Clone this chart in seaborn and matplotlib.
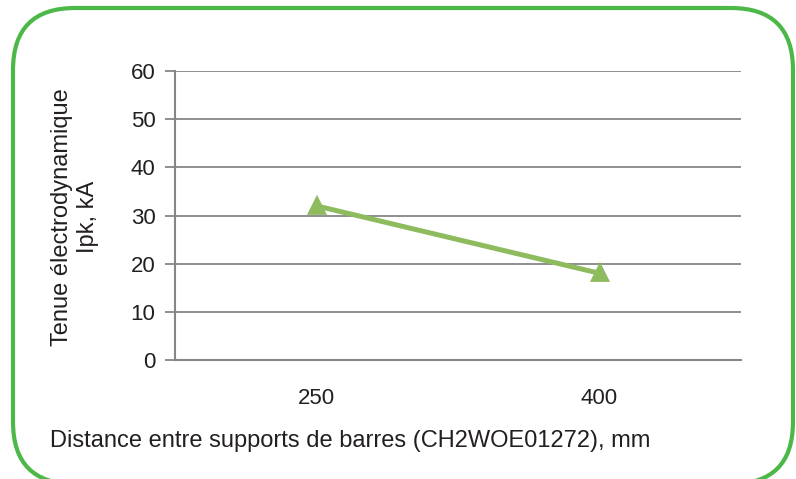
import matplotlib
matplotlib.use("Agg")
import matplotlib.pyplot as plt
from matplotlib.patches import FancyBboxPatch
import pandas as pd
import seaborn as sns

distances = ["250", "400"]
tenue = [32, 18]
y_ticks = [0, 10, 20, 30, 40, 50, 60]

sns.set_theme(style="white")
plt.rcParams["font.family"] = ["Liberation Sans", "DejaVu Sans"]

df = pd.DataFrame({"distance": distances, "tenue": tenue})

fig = plt.figure(figsize=(7.96, 4.79), dpi=100)
ax = fig.add_axes([175 / 796, 1 - 360 / 479, 566 / 796, 289 / 479])

grey = "#868686"
txt = "#231f20"
ax.set_ylim(0, 60)
ax.set_yticks(y_ticks)
ax.yaxis.grid(True, color=grey, linewidth=1.3)
ax.set_axisbelow(True)

sns.pointplot(data=df, x="distance", y="tenue", color="#8dbb5e",
              markers="^", linestyles="-", markersize=10, linewidth=3.6, ax=ax)
ax.set_xlim(-0.5, 1.5)

for s in ["top", "right"]:
    ax.spines[s].set_visible(False)
for s in ["left", "bottom"]:
    ax.spines[s].set_color(grey)
    ax.spines[s].set_linewidth(1.5)

ax.tick_params(axis="y", left=True, length=7, width=1.3, color=grey,
               labelsize=16, labelcolor=txt, pad=7)
ax.tick_params(axis="x", bottom=False, labelsize=16, labelcolor=txt, pad=14)

ax.set_xlabel("")
ax.set_ylabel("")
fig.text(50 / 796, 1 - 441 / 479, "Distance entre supports de barres (CH2WOE01272), mm",
         fontsize=17, color=txt, ha="left", va="center")
fig.text(75 / 796, 1 - 217 / 479, "Tenue électrodynamique\nIpk, kA", rotation=90,
         fontsize=17, color=txt, ha="center", va="center",
         multialignment="center", linespacing=1.2)

# rounded green frame, bottom edge just below the picture
border = FancyBboxPatch((13 / 796, -5 / 479), 780 / 796, 476 / 479,
                        boxstyle="round,pad=0,rounding_size=0.078",
                        transform=fig.transFigure, fill=False,
                        edgecolor="#4cb848", linewidth=3, mutation_aspect=796 / 479)
fig.patches.append(border)

fig.savefig("out.png", dpi=100)
